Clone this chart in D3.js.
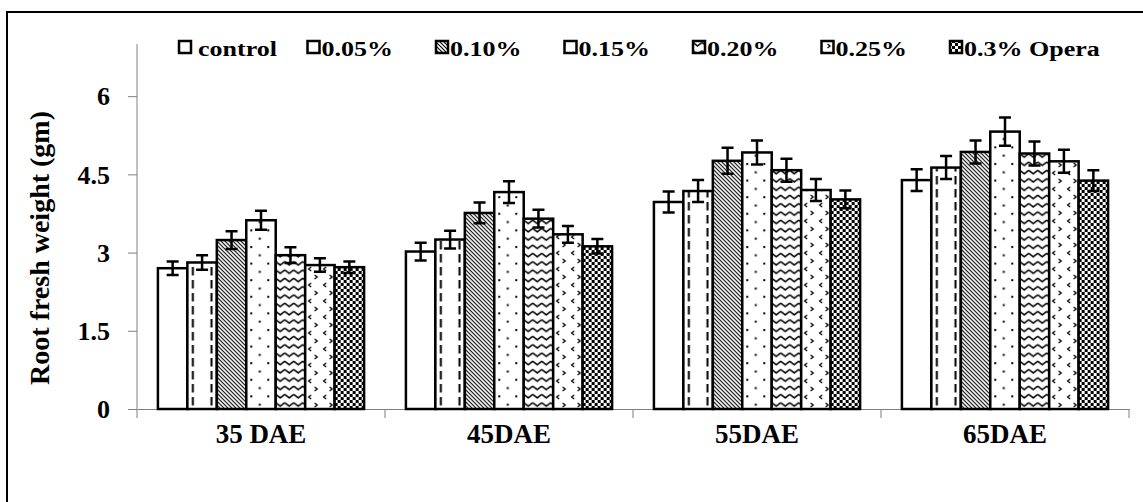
<!DOCTYPE html>
<html>
<head>
<meta charset="utf-8">
<script src="https://cdn.jsdelivr.net/npm/d3@7"></script>
<style>
body{margin:0;background:#fff;}
svg{display:block;}
text{font-family:"Liberation Serif","Times New Roman",serif;font-weight:bold;fill:#000;}
</style>
</head>
<body>
<div id="chart"></div>
<script>
//data
var categories = ["35 DAE", "45DAE", "55DAE", "65DAE"];
var seriesNames = ["control", "0.05%", "0.10%", "0.15%", "0.20%", "0.25%", "0.3% Opera"];
// one row per series, one value per category
var values = [
    [2.70, 3.02, 3.97, 4.39],
    [2.81, 3.25, 4.18, 4.63],
    [3.24, 3.76, 4.76, 4.93],
    [3.62, 4.16, 4.92, 5.32],
    [2.95, 3.65, 4.58, 4.90],
    [2.76, 3.35, 4.20, 4.75],
    [2.72, 3.12, 4.02, 4.38]
];
var errors = [
    [0.13, 0.17, 0.20, 0.21],
    [0.14, 0.17, 0.21, 0.22],
    [0.17, 0.20, 0.25, 0.22],
    [0.18, 0.21, 0.23, 0.27],
    [0.15, 0.17, 0.22, 0.23],
    [0.13, 0.16, 0.21, 0.22],
    [0.11, 0.14, 0.17, 0.20]
];
var yTicks = [0, 1.5, 3, 4.5, 6];

var W = 1143, H = 502;
var svg = d3.select("#chart").append("svg").attr("width", W).attr("height", H);
var defs = svg.append("defs");

// outer frame (cut by the picture edge on right / bottom)
svg.append("rect").attr("x", 7).attr("y", 12).attr("width", 1160).attr("height", 520)
    .attr("fill", "none").attr("stroke", "#000").attr("stroke-width", 2);

// scales
var x0 = d3.scaleBand().domain(categories).range([137, 1129]).paddingInner(0).paddingOuter(0);
var x1 = d3.scaleBand().domain(seriesNames).range([0, x0.bandwidth()]).paddingInner(0).paddingOuter(0.71);
var y = d3.scaleLinear().domain([0, 7]).range([409, 44]);

// patterns, one per bar so each starts at the bar's left edge
function addPattern(id, s, px, py) {
    var p = defs.append("pattern").attr("id", id)
        .attr("patternUnits", "userSpaceOnUse")
        .attr("x", px).attr("y", py);
    if (s == 1) { // dashed verticals
        p.attr("width", 18.6).attr("height", 13);
        p.append("rect").attr("width", 18.6).attr("height", 13).attr("fill", "#fff");
        p.append("rect").attr("x", 4.5).attr("y", 1).attr("width", 2).attr("height", 8.5).attr("fill", "#000");
    } else if (s == 2) { // diagonal lines
        p.attr("width", 4).attr("height", 4);
        p.append("rect").attr("width", 4).attr("height", 4).attr("fill", "#fff");
        p.append("path").attr("d", "M-1,-1L5,5M-1,3L1,5M3,-1L5,1")
            .attr("stroke", "#000").attr("stroke-width", 1.1);
    } else if (s == 3) { // sparse dots
        p.attr("width", 17).attr("height", 16.6);
        p.append("rect").attr("width", 17).attr("height", 16.6).attr("fill", "#fff");
        p.append("rect").attr("x", 4).attr("y", 3).attr("width", 2).attr("height", 2).attr("fill", "#000");
        p.append("rect").attr("x", 12.5).attr("y", 11.3).attr("width", 2).attr("height", 2).attr("fill", "#000");
    } else if (s == 4) { // zigzag
        p.attr("width", 9).attr("height", 8.3);
        p.append("rect").attr("width", 9).attr("height", 8.3).attr("fill", "#fff");
        p.append("path").attr("d", "M0,2L4.5,5.5L9,2")
            .attr("fill", "none").attr("stroke", "#000").attr("stroke-width", 1.4);
    } else if (s == 5) { // < > marks
        p.attr("width", 15).attr("height", 16);
        p.append("rect").attr("width", 15).attr("height", 16).attr("fill", "#fff");
        p.append("path").attr("d", "M6,2L3.5,4L6,6M9.5,10L12,12L9.5,14")
            .attr("fill", "none").attr("stroke", "#000").attr("stroke-width", 1.3);
    } else if (s == 6) { // checkerboard
        p.attr("width", 6).attr("height", 6);
        p.append("rect").attr("width", 6).attr("height", 6).attr("fill", "#fff");
        p.append("rect").attr("width", 3).attr("height", 3).attr("fill", "#000");
        p.append("rect").attr("x", 3).attr("y", 3).attr("width", 3).attr("height", 3).attr("fill", "#000");
    }
}

function fillFor(s, id, px, py) {
    if (s == 0) return "#fff";
    addPattern(id, s, px, py);
    return "url(#" + id + ")";
}

// axes
var yAxis = svg.append("g").attr("transform", "translate(137,0)")
    .call(d3.axisLeft(y).tickValues(yTicks).tickSize(9).tickPadding(18).tickFormat(function (d) { return String(d); }));
yAxis.select(".domain").attr("d", "M0," + y(0) + "V" + y(7)).attr("stroke", "#808080");
yAxis.selectAll(".tick line").attr("stroke", "#808080");
yAxis.selectAll("text").attr("font-size", 26).attr("font-family", null).attr("dy", "0.34em");

var xAxis = svg.append("g").attr("transform", "translate(0,409)")
    .call(d3.axisBottom(x0).tickSize(0).tickSizeOuter(0).tickPadding(15));
xAxis.select(".domain").attr("stroke", "#808080");
xAxis.selectAll("text").attr("font-size", 27).attr("font-family", null);

// boundary ticks between categories
var bounds = categories.map(function (c) { return x0(c); }).concat([x0(categories[categories.length - 1]) + x0.bandwidth()]);
svg.append("g").selectAll("line").data(bounds).enter().append("line")
    .attr("x1", function (d) { return d; }).attr("x2", function (d) { return d; })
    .attr("y1", 409).attr("y2", 418).attr("stroke", "#808080");

// bars
var rows = [];
categories.forEach(function (c, ci) {
    seriesNames.forEach(function (s, si) {
        rows.push({cat: c, ci: ci, s: s, si: si, v: values[si][ci], e: errors[si][ci]});
    });
});

var barG = svg.append("g");
barG.selectAll("rect").data(rows).enter().append("rect")
    .attr("x", function (d) { return x0(d.cat) + x1(d.s); })
    .attr("y", function (d) { return y(d.v); })
    .attr("width", x1.bandwidth())
    .attr("height", function (d) { return y(0) - y(d.v); })
    .attr("fill", function (d, i) { return fillFor(d.si, "p" + i, x0(d.cat) + x1(d.s), y(0)); })
    .attr("stroke", "#000").attr("stroke-width", 2.5);

// error bars
var errG = svg.append("g").attr("stroke", "#000").attr("stroke-width", 2.5).attr("fill", "none");
errG.selectAll("path").data(rows).enter().append("path")
    .attr("d", function (d) {
        var cx = x0(d.cat) + x1(d.s) + x1.bandwidth() / 2;
        var t = y(d.v + d.e), b = y(d.v - d.e);
        return "M" + (cx - 6) + "," + t + "H" + (cx + 6) + "M" + cx + "," + t + "V" + b + "M" + (cx - 6) + "," + b + "H" + (cx + 6);
    });

// y title
svg.append("text").attr("transform", "translate(49,248) rotate(-90)")
    .attr("text-anchor", "middle").attr("font-size", 28)
    .text("Root fresh weight (gm)");

// legend
var legend = svg.append("g").selectAll("g").data(seriesNames).enter().append("g")
    .attr("transform", function (d, i) { return "translate(" + (179 + i * 128.5) + ",41)"; });
legend.append("rect").attr("width", 12).attr("height", 12)
    .attr("fill", function (d, i) { return fillFor(i, "lg" + i, 179 + i * 128.5, 41); })
    .attr("stroke", "#000").attr("stroke-width", 2.5);
legend.append("text")
    .attr("transform", function (d, i) { return "translate(" + (i == 0 ? 19 : 14) + ",14.5) scale(1.3,1)"; })
    .attr("font-size", 20)
    .text(function (d) { return d; });
</script>
</body>
</html>
